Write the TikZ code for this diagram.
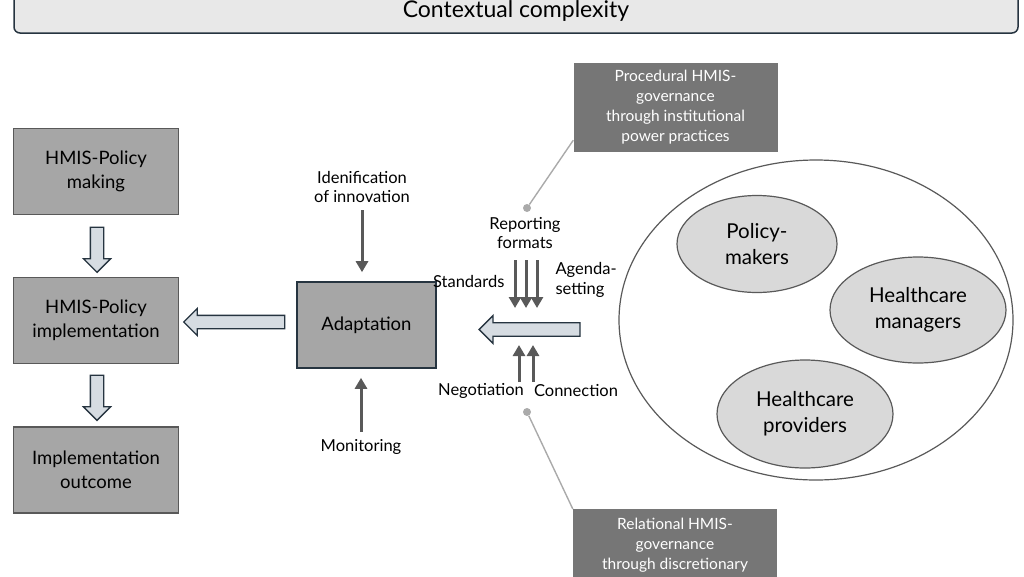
\documentclass[tikz,border=0pt]{standalone}
\usepackage{fontspec}
\setmainfont{Lato}
\usetikzlibrary{positioning,shapes.geometric,shapes.arrows,arrows.meta}

\definecolor{boxgray}{RGB}{166,166,166}
\definecolor{govgray}{RGB}{118,118,118}
\definecolor{bandgray}{RGB}{232,232,232}
\definecolor{cloudgray}{RGB}{217,217,217}
\definecolor{slate}{RGB}{38,52,64}
\definecolor{darkgray}{RGB}{89,89,89}
\definecolor{leadgray}{RGB}{170,170,170}
\definecolor{arrowfill}{RGB}{214,220,226}

\begin{document}
\begin{tikzpicture}[x=1pt, y=-1pt, node distance=2cm,
	box/.style = {draw=darkgray, line width=1.2pt, fill=boxgray, minimum width=165, minimum height=86, align=center, font=\fontsize{18.5}{24}\selectfont},
	govbox/.style = {fill=govgray, text=white, minimum width=204, minimum height=89, align=center, font=\fontsize{15.5}{20}\selectfont},
	group/.style = {ellipse, draw=darkgray, line width=1.2pt, fill=cloudgray, align=center, font=\fontsize{20.5}{26}\selectfont},
	lbl/.style = {align=center, font=\fontsize{16.5}{19.5}\selectfont}]
	\tikzset{fatarrow/.style = {single arrow, draw=slate, line width=1.3pt, fill=arrowfill, inner sep=6pt, single arrow head extend=7pt, single arrow tip angle=90, anchor=center}}
	\tikzset{flow/.style = {-{Triangle[length=11pt,width=12pt]}, line width=3pt, darkgray}}
	\tikzset{lead/.style = {leadgray, line width=1.4pt}}
	\tikzset{dot/.style = {circle, fill=leadgray, inner sep=0pt, minimum size=8}}

	\useasboundingbox (0,0) rectangle (1024,576);

	% context band
	\node[draw=slate, line width=1.5pt, fill=bandgray, rounded corners=6pt, minimum width=1004, minimum height=47] (ctx) at (516,9.5) {};
	\node[font=\fontsize{23}{27}\selectfont] (ctxtext) at (516,11) {Contextual complexity};

	% policy chain
	\node[box] (make) at (96,171.5) {HMIS-Policy\\making};
	\node[box] (impl) at (96,320.5) {HMIS-Policy\\implementation};
	\node[box] (outc) at (96,470) {Implementation\\outcome};
	\node[fatarrow, minimum height=45, minimum width=27, shape border rotate=270] (d1) at (97,246.5) {};
	\node[fatarrow, minimum height=45, minimum width=27, shape border rotate=270] (d2) at (97,394.5) {};

	% adaptation
	\node[box, draw=slate, line width=1.6pt, minimum width=139, minimum height=86] (adapt) at (366.5,325) {Adaptation};
	\node[fatarrow, minimum height=101, minimum width=26, shape border rotate=180] (a1) at (237.5,322) {};
	\node[lbl] (ident) at (362,187) {Idenification\\of innovation};
	\node[lbl] (monit) at (361,447) {Monitoring};
	\draw[flow, shorten <=4pt, shorten >=9pt] (ident.south) -- (ident.south |- adapt.north);
	\draw[flow, shorten <=4pt, shorten >=9pt] (monit.north) -- (monit.north |- adapt.south);

	% governance mechanisms
	\node[fatarrow, minimum height=101, minimum width=28, shape border rotate=180] (a2) at (533,329.5) {};
	\node[lbl] (report) at (525,233) {Reporting\\formats};
	\node[lbl, anchor=east] (stand) at (508,281) {Standards};
	\node[lbl, anchor=west, align=left] (agenda) at (552,280) {Agenda-\\setting};
	\node[lbl] (nego) at (481,391) {Negotiation};
	\node[lbl] (conn) at (576,391) {Connection};
	\foreach \i/\x in {1/515,2/526,3/537} {
		\coordinate (s\i) at (\x,260);
		\coordinate (e\i) at (\x,308);
		\draw[flow] (s\i) -- (e\i);
	}
	\foreach \i/\x in {1/519,2/533} {
		\coordinate (u\i) at (\x,382);
		\coordinate (v\i) at (\x,345);
		\draw[flow] (u\i) -- (v\i);
	}

	% governance boxes
	\node[govbox] (proc) at (675.5,107.5) {Procedural HMIS-\\governance\\through institutional\\power practices};
	\node[govbox, anchor=north] (rel) at (675,509) {Relational HMIS-\\governance\\through discretionary\\\mbox{}};
	\node[dot] (pdot) at (527,208) {};
	\node[dot] (rdot) at (527,412) {};
	\draw[lead] (pdot) -- ([yshift=12pt]proc.south west);
	\draw[lead] (rdot) -- (rel.north west);

	% actors
	\node[ellipse, draw=darkgray, line width=1.2pt, minimum width=394, minimum height=320] (actors) at (816,320) {};
	\node[group, minimum width=160, minimum height=97] (pmak) at (757,244) {Policy-\\makers};
	\node[group, minimum width=176, minimum height=106] (hman) at (918,310) {Healthcare\\managers};
	\node[group, minimum width=176, minimum height=108] (hprov) at (805,414) {Healthcare\\providers};
\end{tikzpicture}
\end{document}
